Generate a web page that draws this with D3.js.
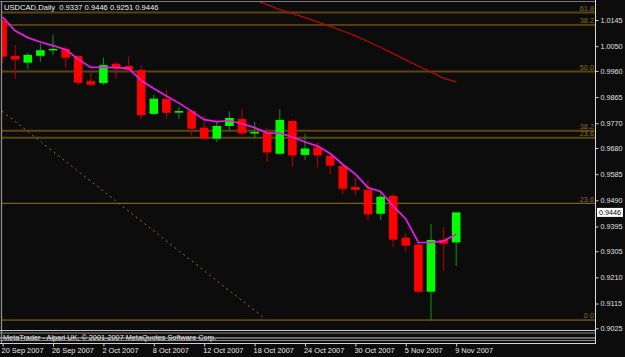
<!DOCTYPE html>
<html>
<head>
<meta charset="utf-8">
<script src="https://cdn.jsdelivr.net/npm/d3@7"></script>
<style>
html, body { margin: 0; padding: 0; background: #0c0c0c; }
svg { display: block; }
text { font-family: "Liberation Sans", Arial, sans-serif; }
</style>
</head>
<body>
<div id="chart"></div>
<script>
// USDCAD daily bars, 20 Sep - 9 Nov 2007
var symbol = 'USDCAD,Daily';
var dates = ['2007-09-20','2007-09-21','2007-09-24','2007-09-25','2007-09-26','2007-09-27','2007-09-28',
  '2007-10-01','2007-10-02','2007-10-03','2007-10-04','2007-10-05','2007-10-08','2007-10-09','2007-10-10',
  '2007-10-11','2007-10-12','2007-10-15','2007-10-16','2007-10-17','2007-10-18','2007-10-19','2007-10-22',
  '2007-10-23','2007-10-24','2007-10-25','2007-10-26','2007-10-29','2007-10-30','2007-10-31','2007-11-01',
  '2007-11-02','2007-11-05','2007-11-06','2007-11-07','2007-11-08','2007-11-09'];
var opens  = [1.0143,1.0014,0.9990,1.0015,1.0037,1.0040,1.0014,0.9923,0.9916,0.9986,0.9978,0.9963,0.9804,
  0.9858,0.9809,0.9814,0.9754,0.9714,0.9760,0.9785,0.9736,0.9736,0.9659,0.9778,0.9655,0.9682,0.9651,
  0.9615,0.9538,0.9528,0.9441,0.9506,0.9354,0.9329,0.9158,0.9346,0.9337];
var highs  = [1.0156,1.0054,1.0026,1.0060,1.0091,1.0048,1.0016,0.9956,1.0009,0.9993,1.0012,0.9981,0.9873,
  0.9891,0.9828,0.9816,0.9796,0.9776,0.9812,0.9821,0.9774,0.9752,0.9821,0.9784,0.9731,0.9701,0.9655,
  0.9618,0.9572,0.9564,0.9521,0.9515,0.9370,0.9334,0.9404,0.9392,0.9446];
var lows   = [0.9989,0.9931,0.9966,0.9993,1.0018,0.9973,0.9908,0.9905,0.9909,0.9931,0.9955,0.9784,0.9799,
  0.9786,0.9786,0.9725,0.9712,0.9702,0.9739,0.9725,0.9715,0.9628,0.9656,0.9612,0.9637,0.9609,0.9585,
  0.9512,0.9507,0.9416,0.9418,0.9321,0.9300,0.9152,0.9053,0.9234,0.9251];
var closes = [1.0012,1.0001,1.0018,1.0035,1.0040,1.0008,0.9917,0.9910,0.9981,0.9973,0.9963,0.9799,0.9859,
  0.9808,0.9814,0.9750,0.9714,0.9760,0.9789,0.9733,0.9738,0.9664,0.9782,0.9653,0.9678,0.9653,0.9616,
  0.9532,0.9528,0.9439,0.9503,0.9347,0.9325,0.9158,0.9346,0.9332,0.9446];

// moving averages (magenta fast one on all bars, red slow one from bar 19)
var maFast = [1.0156,1.0106,1.0081,1.0065,1.0052,1.0038,1.0003,0.9973,0.9973,0.9972,0.9969,0.9925,0.9896,
  0.9869,0.9843,0.9814,0.9783,0.9776,0.9779,0.9768,0.9754,0.9735,0.9734,0.9720,0.9702,0.9687,0.9660,
  0.9620,0.9585,0.9536,0.9522,0.9469,0.9422,0.9337,0.9336,0.9342,0.9367];
var maSlowStart = 19;
var maSlow = [1.0236,1.0218,1.0201,1.0183,1.0169,1.0154,1.0138,1.0122,1.0105,1.0087,1.0067,1.0045,1.0023,
  1.0000,0.9978,0.9956,0.9933,0.9920];

// price scale labels
var priceTicks = [1.0145,1.0050,0.9960,0.9865,0.9770,0.9680,0.9585,0.9490,0.9395,0.9305,0.9210,0.9115,0.9025];
var dateTicks = [0,4,8,12,16,20,24,28,32,36];

// fibonacci lines
var fibLabels = ['61.8','38.2','50.0','38.2','23.6','23.6','0.0'];
var fibPrices = [1.0172,1.0127,0.9958,0.9743,0.9717,0.9479,0.9055];

// dotted trendline (bar index, price)
var trendIdx = [-0.05, 20.7];
var trendPrice = [0.9814, 0.9064];

var copyright = 'MetaTrader - Alpari UK, \u00a9 2001-2007 MetaQuotes Software Corp.';

function drawChart() {
  var width = 625, height = 357;
  var plot = { left: 2, top: 2, right: 595, bottom: 330 };
  var parse = d3.timeParse('%Y-%m-%d');
  var fmtDate = d3.timeFormat('%-d %b %Y');
  var fmtPrice = d3.format('.4f');

  var bars = dates.map(function(d, i) {
    return { i: i, date: parse(d), o: opens[i], h: highs[i], l: lows[i], c: closes[i] };
  });

  var svg = d3.select('#chart').append('svg')
    .attr('width', width)
    .attr('height', height);

  svg.append('rect').attr('width', width).attr('height', height).attr('fill', '#0c0c0c');

  var x = d3.scaleLinear().domain([0, bars.length - 1]).range([2.6, 456.2]);
  var y = d3.scaleLinear().domain([0.90188, 1.02104]).range([plot.bottom, plot.top]);
  var step = x(1) - x(0);
  var bodyW = step * 0.68;

  svg.append('clipPath').attr('id', 'plotClip')
    .append('rect')
    .attr('x', plot.left).attr('y', plot.top)
    .attr('width', plot.right - plot.left).attr('height', plot.bottom - plot.top);

  var g = svg.append('g').attr('clip-path', 'url(#plotClip)');

  // fibo levels - some show up as dim double lines in the screenshot
  var fibWide = [true, false, true, true, true, false, false];
  g.selectAll('line.fib')
    .data(fibPrices)
    .enter()
    .append('line')
    .attr('class', 'fib')
    .attr('x1', plot.left).attr('x2', plot.right)
    .attr('y1', d => y(d)).attr('y2', d => y(d))
    .attr('stroke', (d, i) => fibWide[i] ? '#5c4412' : '#9a7119')
    .attr('stroke-width', (d, i) => fibWide[i] ? 2 : 1);

  svg.selectAll('text.fib')
    .data(fibPrices)
    .enter()
    .append('text')
    .attr('class', 'fib')
    .attr('x', 594)
    .attr('y', d => y(d) - 1.8)
    .attr('text-anchor', 'end')
    .attr('font-size', 7.3)
    .attr('fill', '#8e6a1c')
    .text((d, i) => fibLabels[i]);

  // trendline
  g.append('line')
    .attr('x1', x(trendIdx[0])).attr('y1', y(trendPrice[0]))
    .attr('x2', x(trendIdx[1])).attr('y2', y(trendPrice[1]))
    .attr('stroke', '#9a6f14')
    .attr('stroke-width', 1)
    .attr('stroke-dasharray', '2,3.5');

  // slow MA
  var slowLine = d3.line()
    .x((d, i) => x(i + maSlowStart))
    .y(d => y(d));
  g.append('path')
    .attr('d', slowLine(maSlow))
    .attr('fill', 'none')
    .attr('stroke', '#b80808')
    .attr('stroke-width', 1.3);

  // wicks
  g.selectAll('line.wick')
    .data(bars)
    .enter()
    .append('line')
    .attr('class', 'wick')
    .attr('x1', d => x(d.i)).attr('x2', d => x(d.i))
    .attr('y1', d => y(d.h)).attr('y2', d => y(d.l))
    .attr('stroke', d => d.c >= d.o ? '#0f8a0f' : '#b00000')
    .attr('stroke-width', 1.1);

  // bodies
  g.selectAll('rect.body')
    .data(bars)
    .enter()
    .append('rect')
    .attr('class', 'body')
    .attr('x', d => x(d.i) - bodyW / 2)
    .attr('width', bodyW)
    .attr('y', d => y(Math.max(d.o, d.c)))
    .attr('height', d => Math.max(1.5, Math.abs(y(d.o) - y(d.c))))
    .attr('fill', d => d.c >= d.o ? '#00ff00' : '#ff0000');

  // fast MA
  var fastLine = d3.line()
    .x((d, i) => x(i))
    .y(d => y(d));
  g.append('path')
    .attr('d', fastLine(maFast))
    .attr('fill', 'none')
    .attr('stroke', '#e81ce8')
    .attr('stroke-width', 1.7);

  // frame
  svg.append('line').attr('x1', 0).attr('x2', plot.right).attr('y1', 1.5).attr('y2', 1.5)
    .attr('stroke', '#7a7a7a');
  svg.append('line').attr('x1', 1.5).attr('x2', 1.5).attr('y1', 1).attr('y2', 343)
    .attr('stroke', '#8c8c8c').attr('stroke-width', 1.3);

  // bottom strip with the copyright line
  var stripLines = [330.5, 333, 338, 340.5, 343.5];
  var stripCols = ['#c8c8c8', '#8a8a8a', '#c8c8c8', '#8a8a8a', '#d0d0d0'];
  svg.selectAll('line.strip')
    .data(stripLines)
    .enter()
    .append('line')
    .attr('class', 'strip')
    .attr('x1', 0).attr('x2', plot.right)
    .attr('y1', d => d).attr('y2', d => d)
    .attr('stroke', (d, i) => stripCols[i]);
  svg.append('text')
    .attr('x', 3).attr('y', 340)
    .attr('font-size', 7.3)
    .attr('fill', '#e8e8e8')
    .text(copyright);

  // price axis
  var yAxis = d3.axisRight(y)
    .tickValues(priceTicks)
    .tickSize(3)
    .tickPadding(2)
    .tickFormat(fmtPrice);
  var ya = svg.append('g')
    .attr('transform', 'translate(' + (plot.right + 0.5) + ',0)')
    .call(yAxis);
  ya.select('.domain').remove();
  ya.selectAll('line').attr('stroke', '#d0d0d0');
  ya.selectAll('text').attr('fill', '#e0e0e0').attr('font-size', 7.2)
    .attr('font-family', '"Liberation Sans", Arial, sans-serif');
  svg.append('line').attr('x1', plot.right + 0.5).attr('x2', plot.right + 0.5)
    .attr('y1', 0).attr('y2', 344)
    .attr('stroke', '#d8d8d8');

  // last price marker
  var last = bars[bars.length - 1];
  svg.append('rect')
    .attr('x', 597).attr('y', y(last.c) - 4.5)
    .attr('width', 26).attr('height', 9)
    .attr('fill', '#ffffff');
  svg.append('text')
    .attr('x', 599).attr('y', y(last.c) + 2.6)
    .attr('font-size', 7.2)
    .attr('fill', '#000000')
    .text(fmtPrice(last.c));

  // time axis
  var xAxis = d3.axisBottom(x)
    .tickValues(dateTicks)
    .tickSize(3)
    .tickPadding(1)
    .tickFormat(i => fmtDate(bars[i].date));
  var xa = svg.append('g')
    .attr('transform', 'translate(0,343.5)')
    .call(xAxis);
  xa.select('.domain').remove();
  xa.selectAll('line').attr('stroke', '#d0d0d0');
  xa.selectAll('text')
    .attr('text-anchor', 'start')
    .attr('dx', -1.5)
    .attr('fill', '#e8e8e8')
    .attr('font-size', 7.4)
    .attr('font-family', '"Liberation Sans", Arial, sans-serif');

  // header
  svg.append('text')
    .attr('x', 4).attr('y', 10)
    .attr('font-size', 7.6)
    .attr('fill', '#f0f0f0')
    .attr('xml:space', 'preserve')
    .style('white-space', 'pre')
    .text(symbol + '  ' + [last.o, last.h, last.l, last.c].map(fmtPrice).join(' '));
}
drawChart();
</script>
</body>
</html>
